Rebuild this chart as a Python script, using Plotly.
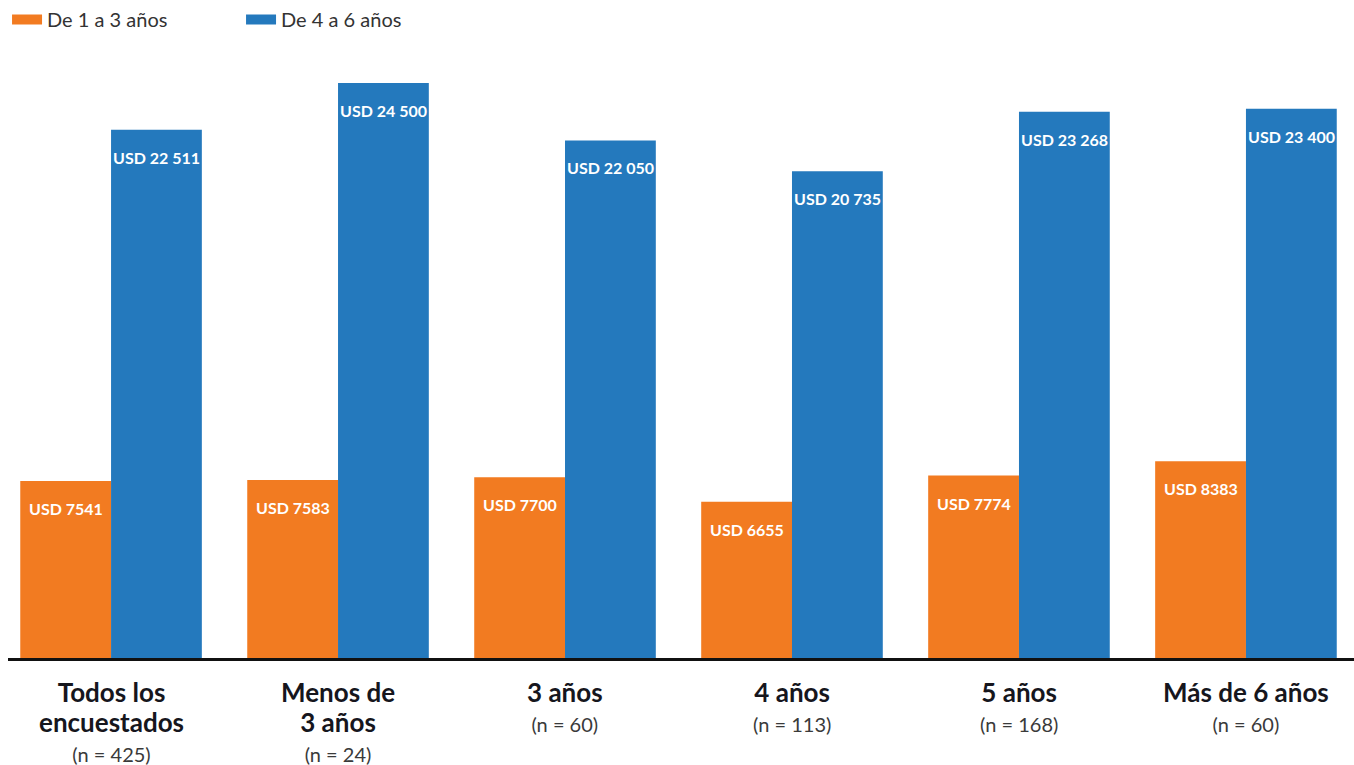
import plotly.graph_objects as go

categories = ["Todos los<br>encuestados", "Menos de<br>3 años", "3 años", "4 años", "5 años", "Más de 6 años"]
sample_sizes = [425, 24, 60, 113, 168, 60]
series_names = ["De 1 a 3 años", "De 4 a 6 años"]
vals_1a3 = [7541, 7583, 7700, 6655, 7774, 8383]
vals_4a6 = [22511, 24500, 22050, 20735, 23268, 23400]

ORANGE = "#F27B21"
BLUE = "#2479BD"
FONT = "Lato, 'Open Sans', sans-serif"


def fmt(v):
    if v >= 10000:
        s = f"{v:,}".replace(",", " ")
    else:
        s = str(v)
    return "USD " + s


xs = list(range(len(categories)))

fig = go.Figure()
fig.add_trace(go.Bar(x=xs, y=vals_1a3, name=series_names[0], marker_color=ORANGE,
                     marker_line_width=0, showlegend=False, offsetgroup="a"))
fig.add_trace(go.Bar(x=xs, y=vals_4a6, name=series_names[1], marker_color=BLUE,
                     marker_line_width=0, showlegend=False, offsetgroup="b"))

# legend proxies
for nm, col in zip(series_names, [ORANGE, BLUE]):
    fig.add_trace(go.Scatter(x=[None], y=[None], mode="lines", name=nm,
                             line=dict(color=col, width=11)))

ann = []
for i in xs:
    ann.append(dict(x=i - 0.2, y=vals_1a3[i], xref="x", yref="y", yanchor="top",
                    yshift=-16, text=f"<b>{fmt(vals_1a3[i])}</b>", showarrow=False,
                    font=dict(family=FONT, size=16, color="white")))
    ann.append(dict(x=i + 0.2, y=vals_4a6[i], xref="x", yref="y", yanchor="top",
                    yshift=-16, text=f"<b>{fmt(vals_4a6[i])}</b>", showarrow=False,
                    font=dict(family=FONT, size=16, color="white")))
    ann.append(dict(x=i, y=0, xref="x", yref="paper", yanchor="top", yshift=-16,
                    text=f"<span style='font-size:26px'><b>{categories[i].replace('<br>', '</b></span><br><span style=\"font-size:26px\"><b>')}</b></span><br><span style='font-size:20px;color:#3a3a3a'>(n = {sample_sizes[i]})</span>",
                    showarrow=False, align="center",
                    font=dict(family=FONT, size=23, color="#16161d")))

fig.update_layout(
    width=1354, height=765,
    margin=dict(l=8, r=0, t=40, b=107),
    plot_bgcolor="white", paper_bgcolor="white",
    barmode="group", bargap=0.2, bargroupgap=0,
    font=dict(family=FONT, color="#333333"),
    xaxis=dict(range=[-0.454, 5.476], showticklabels=False, ticks="", showgrid=False,
               zeroline=False, showline=True, linecolor="#111111", linewidth=3),
    yaxis=dict(range=[0, 26330], visible=False, showgrid=False, zeroline=False),
    legend=dict(orientation="h", x=0.0052, y=1, xref="container", yref="container",
                xanchor="left", yanchor="top", font=dict(size=20, color="#333333"),
                itemwidth=30, entrywidth=189, entrywidthmode="pixels"),
    annotations=ann,
)

fig.write_html("out.html", config={"displayModeBar": False},
               post_script="document.body.style.margin='0';document.body.style.overflow='hidden';")
